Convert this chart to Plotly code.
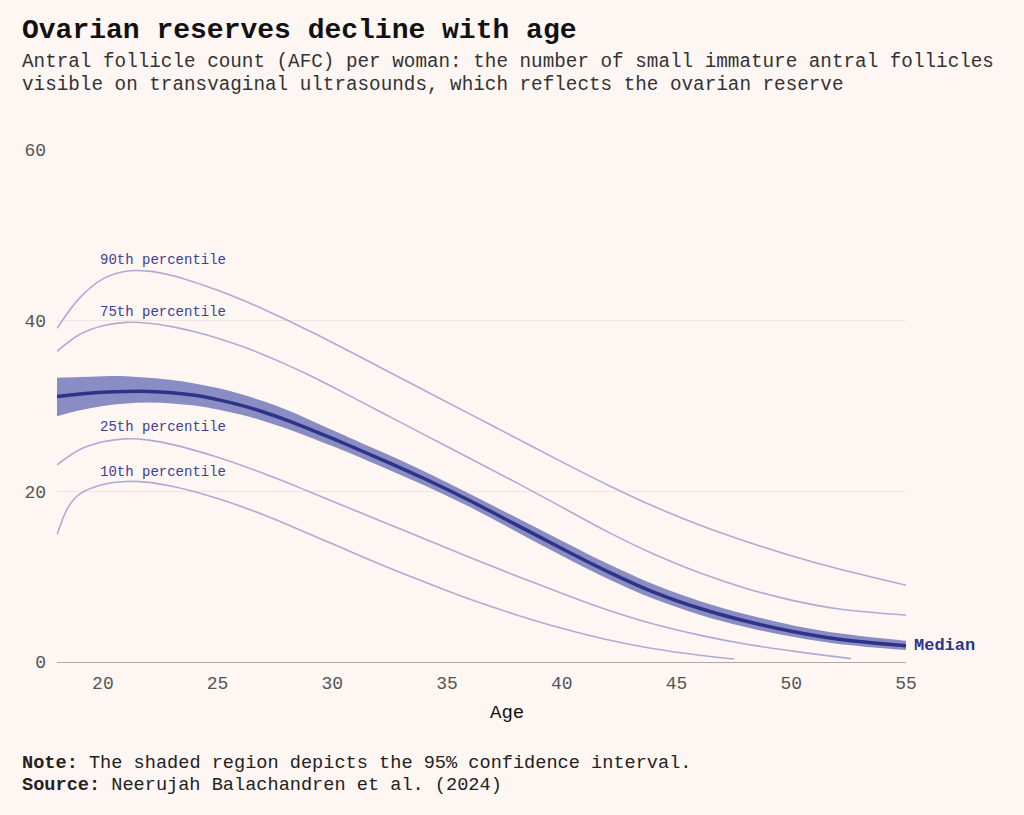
import plotly.graph_objects as go

# ---- data ----
ages = [18, 19, 20, 21, 22, 23, 24, 25, 26, 27, 28, 29, 30, 32, 34, 36, 38, 40, 42, 44, 46, 48, 50, 52, 55]
p90 = [39.1, 42.7, 44.9, 45.8, 45.8, 45.3, 44.5, 43.55, 42.5, 41.35, 40.1, 38.8, 37.45, 34.65, 31.85, 29.05, 26.25, 23.45, 20.75, 18.25, 16.05, 14.15, 12.45, 10.95, 9.0]
p75 = [36.4, 38.4, 39.4, 39.8, 39.7, 39.3, 38.7, 37.95, 37.05, 36.0, 34.85, 33.6, 32.25, 29.45, 26.65, 23.85, 21.05, 18.15, 15.25, 12.65, 10.45, 8.65, 7.25, 6.25, 5.5]
median = [31.1, 31.4, 31.6, 31.7, 31.7, 31.55, 31.25, 30.75, 30.1, 29.3, 28.35, 27.3, 26.2, 23.9, 21.5, 18.9, 16.1, 13.3, 10.6, 8.2, 6.3, 4.8, 3.6, 2.7, 1.9]
ci_upper = [33.3, 33.4, 33.5, 33.5, 33.3, 33.05, 32.65, 32.1, 31.4, 30.55, 29.55, 28.4, 27.2, 24.8, 22.35, 19.7, 16.95, 14.2, 11.5, 9.1, 7.15, 5.6, 4.35, 3.4, 2.5]
ci_lower = [28.8, 29.5, 30.0, 30.3, 30.4, 30.3, 30.05, 29.6, 29.0, 28.25, 27.35, 26.35, 25.3, 23.05, 20.7, 18.15, 15.3, 12.45, 9.75, 7.4, 5.55, 4.1, 3.0, 2.15, 1.4]

ages_p25 = [18, 19, 20, 21, 22, 23, 24, 25, 26, 27, 28, 29, 30, 32, 34, 36, 38, 40, 42, 44, 46, 48, 50, 52, 52.6]
p25 = [23.1, 24.9, 25.8, 26.15, 26.0, 25.5, 24.8, 24.0, 23.1, 22.1, 21.05, 19.95, 18.85, 16.65, 14.45, 12.25, 10.1, 8.05, 6.1, 4.45, 3.15, 2.1, 1.3, 0.6, 0.4]

ages_p10 = [18, 18.5, 19, 20, 21, 22, 23, 24, 25, 26, 27, 28, 29, 30, 32, 34, 36, 38, 40, 42, 44, 46, 47.5]
p10 = [14.9, 18.2, 19.7, 20.8, 21.15, 21.05, 20.6, 19.95, 19.15, 18.25, 17.25, 16.15, 15.0, 13.85, 11.55, 9.4, 7.35, 5.55, 3.95, 2.6, 1.55, 0.8, 0.35]

x_ticks = [20, 25, 30, 35, 40, 45, 50, 55]
y_ticks = [0, 20, 40, 60]

# label positions (age, value) for the percentile names
pct_labels = ["90th percentile", "75th percentile", "25th percentile", "10th percentile"]
pct_label_y = [47.1, 41.0, 27.5, 22.3]
pct_label_x = 19.78

# ---- styles ----
BG = "#fdf6f3"
LIGHT = "#aeacd3"
BAND = "#8a8dc3"
DARK = "#2f3387"
LABEL = "#3d4190"
FONT = "Liberation Mono, DejaVu Sans Mono, monospace"

fig = go.Figure()

line_kw = dict(mode="lines", line=dict(color=LIGHT, width=1.6, shape="spline", smoothing=1.0),
               hoverinfo="skip", showlegend=False)
fig.add_trace(go.Scatter(x=ages, y=p90, **line_kw))
fig.add_trace(go.Scatter(x=ages, y=p75, **line_kw))
fig.add_trace(go.Scatter(x=ages_p25, y=p25, **line_kw))
fig.add_trace(go.Scatter(x=ages_p10, y=p10, **line_kw))

# confidence band
fig.add_trace(go.Scatter(x=ages, y=ci_lower, mode="lines",
                         line=dict(color=BAND, width=0, shape="spline", smoothing=1.0),
                         hoverinfo="skip", showlegend=False))
fig.add_trace(go.Scatter(x=ages, y=ci_upper, mode="lines", fill="tonexty", fillcolor=BAND,
                         line=dict(color=BAND, width=0, shape="spline", smoothing=1.0),
                         hoverinfo="skip", showlegend=False))
fig.add_trace(go.Scatter(x=ages, y=median, mode="lines",
                         line=dict(color=DARK, width=3.5, shape="spline", smoothing=1.0),
                         hoverinfo="skip", showlegend=False))

annotations = []
for txt, yv in zip(pct_labels, pct_label_y):
    annotations.append(dict(x=pct_label_x, y=yv, xref="x", yref="y", text=txt, showarrow=False,
                            xanchor="left", yanchor="middle",
                            font=dict(family=FONT, size=14, color=LABEL)))
annotations.append(dict(x=ages[-1], y=median[-1], xref="x", yref="y", text="<b>Median</b>",
                        showarrow=False, xanchor="left", yanchor="middle", xshift=6,
                        font=dict(family=FONT, size=17, color=DARK)))

# titles / notes in paper coordinates
L, R, T, B = 57, 906, 150, 662
def px(xp):
    return (xp - L) / (R - L)
def py(yp):
    return (B - yp) / (B - T)

annotations += [
    dict(x=px(20), y=py(30), xref="paper", yref="paper", xanchor="left", yanchor="middle",
         text="<b>Ovarian reserves decline with age</b>", showarrow=False,
         font=dict(family=FONT, size=28, color="#111111")),
    dict(x=px(20), y=py(62), xref="paper", yref="paper", xanchor="left", yanchor="middle",
         text="Antral follicle count (AFC) per woman: the number of small immature antral follicles",
         showarrow=False, font=dict(family=FONT, size=19.3, color="#333333")),
    dict(x=px(20), y=py(85), xref="paper", yref="paper", xanchor="left", yanchor="middle",
         text="visible on transvaginal ultrasounds, which reflects the ovarian reserve",
         showarrow=False, font=dict(family=FONT, size=19.3, color="#333333")),
    dict(x=px(507), y=py(713), xref="paper", yref="paper", xanchor="center", yanchor="middle",
         text="Age", showarrow=False, font=dict(family=FONT, size=19, color="#111111")),
    dict(x=px(20), y=py(763), xref="paper", yref="paper", xanchor="left", yanchor="middle",
         text="<b>Note:</b> The shaded region depicts the 95% confidence interval.",
         showarrow=False, font=dict(family=FONT, size=18.6, color="#222222")),
    dict(x=px(20), y=py(785), xref="paper", yref="paper", xanchor="left", yanchor="middle",
         text="<b>Source:</b> Neerujah Balachandren et al. (2024)",
         showarrow=False, font=dict(family=FONT, size=18.6, color="#222222")),
]

fig.update_layout(
    width=1024, height=815,
    paper_bgcolor=BG, plot_bgcolor=BG,
    margin=dict(l=L, r=1024 - R, t=T, b=815 - B, autoexpand=False),
    showlegend=False,
    annotations=annotations,
    font=dict(family=FONT, color="#555555"),
    xaxis=dict(range=[18, 55], tickvals=x_ticks, showgrid=False, zeroline=False,
               showline=True, linecolor="#aaaaaa", linewidth=1.2,
               ticks="", ticklabelstandoff=4,
               tickfont=dict(family=FONT, size=18, color="#555555")),
    yaxis=dict(range=[0, 60], tickvals=y_ticks, showgrid=True, gridcolor="#efe6e2", gridwidth=1,
               zeroline=False, showline=False, ticks="", ticklabelstandoff=10,
               tickfont=dict(family=FONT, size=18, color="#555555")),
)

fig.write_html("out.html", config={"displayModeBar": False},
               post_script="document.body.style.margin='0';document.body.style.background='#fdf6f3';")
